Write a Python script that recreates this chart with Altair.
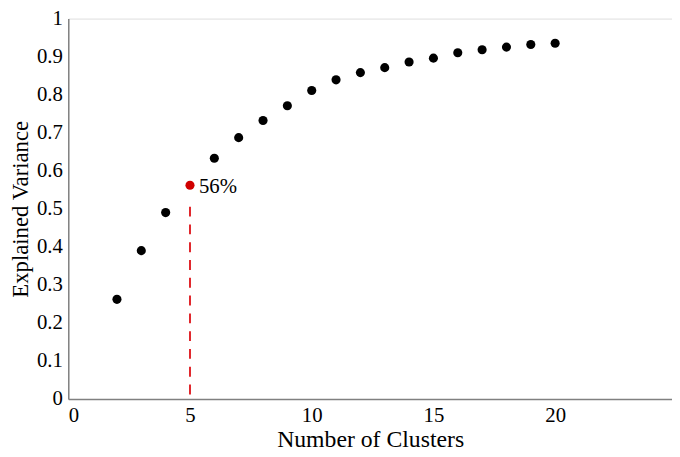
import altair as alt
import pandas as pd

clusters = [2, 3, 4, 6, 7, 8, 9, 10, 11, 12, 13, 14, 15, 16, 17, 18, 19, 20]
variance = [0.262, 0.390, 0.490, 0.633, 0.687, 0.732, 0.771, 0.811, 0.839,
            0.858, 0.871, 0.886, 0.896, 0.910, 0.918, 0.925, 0.932, 0.935]
hl_cluster = [5]
hl_variance = [0.562]
hl_label = ["56%"]
rule_y = [0.012]
rule_y2 = [0.525]
x_ticks = [0, 5, 10, 15, 20]
y_ticks = [0, 0.1, 0.2, 0.3, 0.4, 0.5, 0.6, 0.7, 0.8, 0.9, 1]

df = pd.DataFrame({"k": clusters, "v": variance})
hl = pd.DataFrame({"k": hl_cluster, "v": hl_variance, "label": hl_label,
                   "y0": rule_y, "y1": rule_y2})

FONT = "Liberation Serif, Times New Roman, serif"
xs = alt.Scale(domain=[0, 24.8], nice=False, zero=True)
ys = alt.Scale(domain=[0, 1], nice=False)

xax = alt.Axis(values=x_ticks, title="Number of Clusters", grid=False,
               ticks=False, labelPadding=6, titlePadding=2, domainColor="#808080",
               domainWidth=1.5, labelFont=FONT, titleFont=FONT, labelFontSize=21,
               titleFontSize=24, titleFontWeight="normal", labelColor="black",
               titleColor="black", labelOverlap=False)
yax = alt.Axis(values=y_ticks, title="Explained Variance", grid=False,
               ticks=False, labelPadding=6, titlePadding=4, domainColor="#808080",
               domainWidth=1.5, labelFont=FONT, titleFont=FONT, labelFontSize=21,
               titleFontSize=23, titleFontWeight="normal", labelColor="black",
               titleColor="black", labelOverlap=False,
               labelExpr="datum.value == 0 ? '0' : datum.value == 1 ? '1' : format(datum.value, '.1f')")

pts = alt.Chart(df).mark_circle(size=85, color="black", opacity=1).encode(
    x=alt.X("k:Q", scale=xs, axis=xax),
    y=alt.Y("v:Q", scale=ys, axis=yax),
)

rule = alt.Chart(hl).mark_rule(color="#e0262b", strokeWidth=2, strokeDash=[10, 8]).encode(
    x=alt.X("k:Q", scale=xs, axis=xax),
    y=alt.Y("y0:Q", scale=ys, axis=yax),
    y2="y1:Q",
)

red = alt.Chart(hl).mark_circle(size=85, color="#d00000", opacity=1).encode(
    x=alt.X("k:Q", scale=xs, axis=xax),
    y=alt.Y("v:Q", scale=ys, axis=yax),
)

txt = alt.Chart(hl).mark_text(align="left", baseline="middle", dx=9, dy=2, font=FONT,
                              fontSize=21, color="black").encode(
    x=alt.X("k:Q", scale=xs, axis=xax),
    y=alt.Y("v:Q", scale=ys, axis=yax),
    text="label:N",
)

chart = alt.layer(pts, rule, red, txt).properties(
    width=611, height=385,
    autosize=alt.AutoSizeParams(type="none"),
    padding={"left": 61, "top": 8, "right": 0, "bottom": 56},
).configure_view(stroke=None).configure(background="white")

chart.save("out.html", embed_options={"renderer": "svg", "actions": False})
